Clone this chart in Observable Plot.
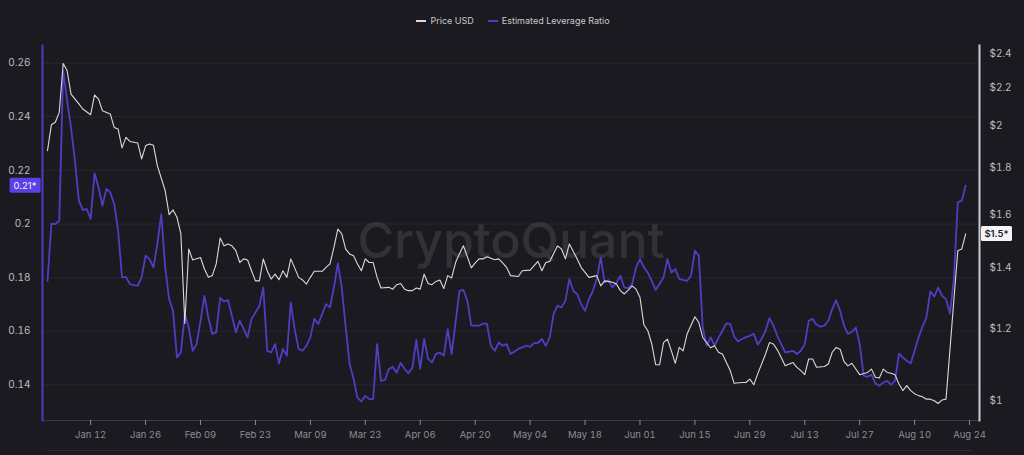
<!DOCTYPE html>
<html>
<head>
<meta charset="utf-8">
<script src="https://cdn.jsdelivr.net/npm/d3@7"></script>
<script src="https://cdn.jsdelivr.net/npm/@observablehq/plot@0.6"></script>
<style>
  html, body { margin: 0; padding: 0; background: #1b1a20; }
  body { width: 1024px; height: 455px; overflow: hidden; font-family: Inter, "Noto Sans", sans-serif; position: relative; }
  #legend { height: 40px; display: flex; justify-content: center; align-items: flex-start; gap: 14px; padding-left: 2px; box-sizing: border-box; }
  .item { display: flex; align-items: center; margin-top: 15px; font-size: 9px; color: #c9c9ce; line-height: 12px; }
  .sw { display: inline-block; width: 10px; margin-right: 4px; }
  #nav { position: absolute; left: 47px; top: 450px; width: 925px; height: 1px; background: #2a2a31; }
</style>
</head>
<body>
<div id="legend"></div>
<div id="chart"></div>
<div id="nav"></div>
<script>
// ---- data ----
const seriesNames = ["Price USD", "Estimated Leverage Ratio"];
const seriesColors = ["#d9d9de", "#4d3fc2"];

// Estimated Leverage Ratio, daily from 2025-01-01 (index = day offset)
const leverageRatio = [
  0.1788,0.2000,0.2000,0.2012,0.2572,0.2460,0.2360,0.2236,0.2087,0.2053,
  0.2056,0.2019,0.2189,0.2137,0.2068,0.2131,0.2118,0.2075,0.1975,0.1801,
  0.1803,0.1776,0.1772,0.1770,0.1801,0.1882,0.1869,0.1838,0.1925,0.2037,
  0.1838,0.1720,0.1676,0.1502,0.1521,0.1664,0.1614,0.1527,0.1552,0.1639,
  0.1732,0.1651,0.1590,0.1596,0.1724,0.1711,0.1716,0.1658,0.1596,0.1639,
  0.1609,0.1577,0.1646,0.1670,0.1695,0.1763,0.1527,0.1521,0.1552,0.1480,
  0.1534,0.1509,0.1707,0.1608,0.1534,0.1527,0.1546,0.1577,0.1646,0.1627,
  0.1664,0.1701,0.1689,0.1763,0.1853,0.1763,0.1614,0.1478,0.1423,0.1352,
  0.1338,0.1359,0.1347,0.1347,0.1552,0.1415,0.1418,0.1459,0.1467,0.1445,
  0.1482,0.1460,0.1443,0.1465,0.1567,0.1460,0.1571,0.1497,0.1484,0.1515,
  0.1520,0.1509,0.1608,0.1515,0.1633,0.1751,0.1754,0.1714,0.1621,0.1621,
  0.1621,0.1629,0.1627,0.1546,0.1527,0.1558,0.1546,0.1552,0.1515,0.1524,
  0.1534,0.1540,0.1546,0.1542,0.1556,0.1557,0.1571,0.1546,0.1577,0.1666,
  0.1695,0.1689,0.1714,0.1795,0.1751,0.1739,0.1701,0.1676,0.1720,0.1751,
  0.1796,0.1875,0.1782,0.1791,0.1763,0.1781,0.1807,0.1763,0.1761,0.1776,
  0.1838,0.1869,0.1838,0.1818,0.1788,0.1754,0.1777,0.1801,0.1869,0.1819,
  0.1832,0.1795,0.1792,0.1788,0.1807,0.1900,0.1882,0.1614,0.1546,0.1577,
  0.1546,0.1575,0.1602,0.1629,0.1627,0.1580,0.1562,0.1571,0.1578,0.1583,
  0.1590,0.1550,0.1572,0.1602,0.1649,0.1621,0.1583,0.1552,0.1521,0.1524,
  0.1527,0.1515,0.1527,0.1552,0.1639,0.1646,0.1624,0.1617,0.1621,0.1639,
  0.1683,0.1716,0.1676,0.1621,0.1590,0.1598,0.1614,0.1552,0.1434,0.1430,
  0.1438,0.1405,0.1397,0.1408,0.1415,0.1400,0.1415,0.1516,0.1502,0.1490,
  0.1480,0.1527,0.1577,0.1617,0.1651,0.1749,0.1729,0.1763,0.1732,0.1720,
  0.1666,0.1795,0.2081,0.2087,0.2143
];

// Price USD: day offset from 2025-01-01 and value
const priceDay = [
  0,1,2,3,4,5,6,8,9,11,12,13,14,16,17,18,19,20,21,23,24,25,26,27,28,30,31,32,33,34,
  35,36,37,39,40,41,42,43,44,45,46,47,48,49,50,51,52,53,54,55,56,57,58,59,60,61,62,63,64,65,
  66,67,68,70,71,72,73,74,75,76,77,78,79,80,81,82,83,84,85,87,88,89,90,91,92,93,94,95,96,97,
  98,99,100,101,102,103,104,105,106,107,108,109,110,111,112,113,114,115,116,117,118,120,121,123,125,126,127,128,130,131,
  132,133,135,136,138,140,141,142,144,145,146,147,148,149,150,151,152,153,154,155,156,157,158,159,160,161,162,163,165,166,
  167,169,170,171,172,174,175,177,178,179,180,181,183,184,185,186,187,188,190,191,192,193,194,195,196,198,199,200,201,202,
  203,204,205,207,209,210,211,212,213,214,215,216,217,218,219,220,221,222,223,224,225,226,227,228,229,232,233,234
];
const priceUsd = [
  1.879,2.006,2.018,2.069,2.341,2.299,2.167,2.114,2.087,2.057,2.162,2.140,2.078,2.061,1.992,1.984,1.892,1.943,1.923,1.915,1.840,1.902,1.911,1.905,1.809,1.698,1.599,1.618,1.588,1.523,
  1.215,1.466,1.426,1.435,1.394,1.365,1.371,1.412,1.507,1.478,1.485,1.478,1.460,1.417,1.430,1.426,1.388,1.353,1.353,1.430,1.388,1.359,1.376,1.357,1.388,1.365,1.430,1.398,1.365,1.356,
  1.342,1.365,1.386,1.386,1.400,1.412,1.472,1.542,1.523,1.466,1.448,1.441,1.412,1.388,1.430,1.417,1.417,1.365,1.329,1.331,1.325,1.340,1.344,1.325,1.320,1.320,1.329,1.325,1.376,1.344,
  1.340,1.351,1.356,1.327,1.371,1.363,1.417,1.449,1.478,1.438,1.398,1.416,1.430,1.430,1.438,1.432,1.427,1.430,1.416,1.400,1.371,1.368,1.388,1.390,1.421,1.388,1.417,1.421,1.478,1.466,
  1.430,1.485,1.430,1.400,1.365,1.371,1.336,1.353,1.348,1.342,1.320,1.309,1.322,1.336,1.325,1.298,1.211,1.193,1.154,1.095,1.095,1.158,1.168,1.134,1.099,1.144,1.134,1.183,1.236,1.218,
  1.173,1.143,1.149,1.130,1.125,1.079,1.045,1.047,1.047,1.056,1.041,1.070,1.125,1.158,1.154,1.137,1.115,1.092,1.101,1.088,1.079,1.068,1.111,1.111,1.088,1.090,1.097,1.130,1.144,1.139,
  1.104,1.092,1.099,1.068,1.074,1.083,1.061,1.059,1.083,1.074,1.072,1.068,1.043,1.026,1.039,1.026,1.018,1.013,1.010,1.004,1.004,1.000,0.993,1.002,1.004,1.460,1.466,1.523
];

// axis ticks
const leverageTicks = [0.14, 0.16, 0.18, 0.20, 0.22, 0.24, 0.26];
const priceTicks = [1, 1.2, 1.4, 1.6, 1.8, 2, 2.2, 2.4];
const dateTicks = ["2025-01-12","2025-01-26","2025-02-09","2025-02-23","2025-03-09","2025-03-23","2025-04-06",
  "2025-04-20","2025-05-04","2025-05-18","2025-06-01","2025-06-15","2025-06-29","2025-07-13","2025-07-27",
  "2025-08-10","2025-08-24"];

// ---- build ----
const DAY = 864e5;
const start = Date.UTC(2025, 0, 1);
const levData = leverageRatio.map((v, i) => ({date: new Date(start + i * DAY), v}));
const priceData = priceDay.map((d, i) => ({date: new Date(start + d * DAY), p: priceUsd[i]}));

// the price axis is logarithmic and shares the frame with the leverage axis
const levAtPrice1 = 0.13407, levPerLnPrice = 0.14795;
const toLev = p => levAtPrice1 + levPerLnPrice * Math.log(p);
const fromLev = v => Math.exp((v - levAtPrice1) / levPerLnPrice);

const xDomain = [new Date(start - 1.27 * DAY), new Date(start + 237.53 * DAY)];
const yDomain = [0.1267, 0.2666];

const levLast = leverageRatio[leverageRatio.length - 1];
const priceLast = priceUsd[priceUsd.length - 1];

// legend
const legend = document.getElementById("legend");
seriesNames.forEach((name, i) => {
  const it = document.createElement("div");
  it.className = "item";
  const sw = document.createElement("span");
  sw.className = "sw";
  sw.style.height = i === 0 ? "1.2px" : "2px";
  sw.style.background = seriesColors[i];
  it.appendChild(sw);
  it.appendChild(document.createTextNode(name));
  legend.appendChild(it);
});

const chart = Plot.plot({
  width: 1024,
  height: 415,
  marginTop: 5,
  marginBottom: 35,
  marginLeft: 42,
  marginRight: 45,
  style: {background: "transparent", fontFamily: "Inter, 'Noto Sans', sans-serif", overflow: "visible"},
  x: {type: "utc", domain: xDomain},
  y: {domain: yDomain},
  marks: [
    Plot.gridY(leverageTicks, {stroke: "#ffffff", strokeOpacity: 0.055, strokeWidth: 1}),
    Plot.ruleY([yDomain[0]], {stroke: "#3a3a42", strokeWidth: 1}),
    Plot.text(["CryptoQuant"], {frameAnchor: "middle", fontSize: 50, fontWeight: 500, fill: "#ffffff", fillOpacity: 0.1, dy: 9}),
    Plot.axisX(dateTicks.map(d => new Date(d)), {
      tickFormat: d3.utcFormat("%b %d"), tickSize: 5, tickPadding: 6,
      color: "#8c8c94", fontSize: 9.5, label: null
    }),
    Plot.axisY(leverageTicks, {
      anchor: "left", tickSize: 0, tickPadding: 12,
      tickFormat: d => `${+d.toFixed(2)}`, color: "#bdbdc3", fontSize: 10, label: null
    }),
    Plot.axisY(priceTicks.map(toLev), {
      anchor: "right", tickSize: 0, tickPadding: 10,
      tickFormat: v => "$" + (+fromLev(v).toFixed(1)), color: "#bdbdc3", fontSize: 10, label: null
    }),
    Plot.frame({anchor: "left", stroke: "#4a3cc4", strokeWidth: 2}),
    Plot.frame({anchor: "right", stroke: "#c9c9cf", strokeWidth: 2}),
    Plot.line(levData, {x: "date", y: "v", stroke: seriesColors[1], strokeWidth: 1.8, curve: "linear"}),
    Plot.line(priceData, {x: "date", y: d => toLev(d.p), stroke: seriesColors[0], strokeWidth: 1.1, curve: "linear"}),
    Plot.text([levLast], {
      y: d => d, text: d => d.toFixed(2) + "*", frameAnchor: "left", dx: -17.5,
      textAnchor: "middle", lineAnchor: "middle", fill: "#f2efff", fontSize: 9.5, className: "lab-left"
    }),
    Plot.text([priceLast], {
      y: d => toLev(d), text: d => "$" + d.toFixed(1) + "*", frameAnchor: "right", dx: 17,
      textAnchor: "middle", lineAnchor: "middle", fill: "#222228", fontSize: 9.5, fontWeight: 600, className: "lab-right"
    })
  ]
});
document.getElementById("chart").appendChild(chart);

// boxes behind the last-value labels
function boxify(cls, fill, w, h) {
  chart.querySelectorAll(`.${cls} text`).forEach(t => {
    const b = t.getBBox();
    const r = document.createElementNS("http://www.w3.org/2000/svg", "rect");
    const cx = b.x + b.width / 2, cy = b.y + b.height / 2;
    r.setAttribute("x", cx - w / 2);
    r.setAttribute("y", cy - h / 2);
    r.setAttribute("width", w);
    r.setAttribute("height", h);
    r.setAttribute("rx", 1.5);
    r.setAttribute("fill", fill);
    const tr = t.getAttribute("transform");
    if (tr) r.setAttribute("transform", tr);
    t.parentNode.insertBefore(r, t);
  });
}
boxify("lab-left", "#5a42e2", 31, 15);
boxify("lab-right", "#f4f4f6", 31, 15);
</script>
</body>
</html>
